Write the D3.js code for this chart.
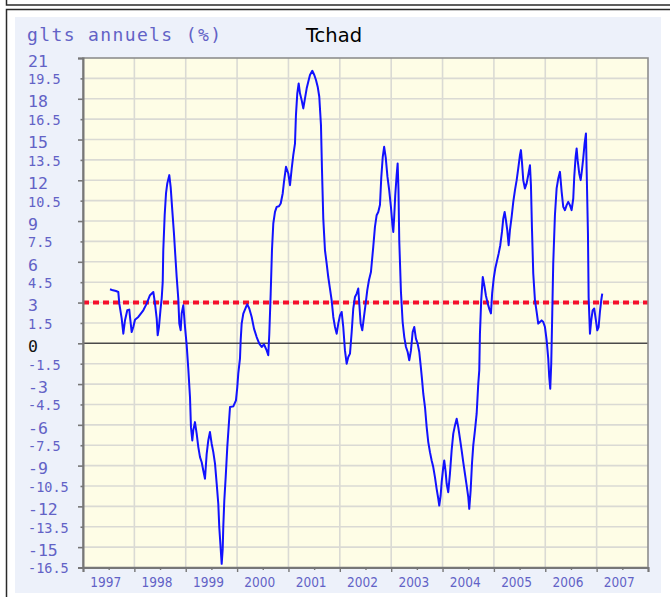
<!DOCTYPE html>
<html>
<head>
<meta charset="utf-8">
<script src="https://cdn.jsdelivr.net/npm/d3@7"></script>
<style>
  html, body { margin: 0; padding: 0; background: #fff; }
  svg { display: block; }
</style>
</head>
<body>
<svg id="chart" width="670" height="597"></svg>
<script>
// Chart text
const chartTitle = "glts annuels (%)";
const countryName = "Tchad";

// Axis ticks
const yearTicks = [1997, 1998, 1999, 2000, 2001, 2002, 2003, 2004, 2005, 2006, 2007, 2008];
const yearLabels = ["1997", "1998", "1999", "2000", "2001", "2002", "2003", "2004", "2005", "2006", "2007"];
const yTickValues = [21, 19.5, 18, 16.5, 15, 13.5, 12, 10.5, 9, 7.5, 6, 4.5, 3, 1.5, 0,
  -1.5, -3, -4.5, -6, -7.5, -9, -10.5, -12, -13.5, -15, -16.5];
const yTickLabels = ["21", "19.5", "18", "16.5", "15", "13.5", "12", "10.5", "9", "7.5", "6", "4.5", "3", "1.5", "0",
  "-1.5", "-3", "-4.5", "-6", "-7.5", "-9", "-10.5", "-12", "-13.5", "-15", "-16.5"];

// Reference threshold (%)
const targetRate = 3;

// Year-on-year inflation: observation dates (decimal years) and rates (%)
const dates = [
  1997.526, 1997.584, 1997.642, 1997.687, 1997.707, 1997.753, 1997.785, 1997.818, 1997.862, 1997.901,
  1997.915, 1997.948, 1997.979, 1998.012, 1998.077, 1998.174, 1998.240, 1998.304, 1998.369, 1998.402,
  1998.435, 1998.454, 1998.479, 1998.509, 1998.532, 1998.552, 1998.563, 1998.590, 1998.616, 1998.641,
  1998.680, 1998.707, 1998.738, 1998.771, 1998.797, 1998.824, 1998.855, 1998.875, 1998.902, 1998.921,
  1998.953, 1998.986, 1999.019, 1999.050, 1999.083, 1999.102, 1999.128, 1999.147, 1999.180, 1999.213,
  1999.245, 1999.278, 1999.311, 1999.342, 1999.375, 1999.408, 1999.439, 1999.472, 1999.505, 1999.537,
  1999.570, 1999.603, 1999.634, 1999.653, 1999.681, 1999.700, 1999.720, 1999.731, 1999.751, 1999.778,
  1999.809, 1999.842, 1999.862, 1999.926, 1999.978, 2000.004, 2000.023, 2000.056, 2000.070, 2000.089,
  2000.121, 2000.173, 2000.198, 2000.237, 2000.284, 2000.329, 2000.381, 2000.432, 2000.479, 2000.523,
  2000.576, 2000.607, 2000.627, 2000.654, 2000.679, 2000.705, 2000.738, 2000.771, 2000.815, 2000.849,
  2000.888, 2000.913, 2000.952, 2000.997, 2001.030, 2001.063, 2001.094, 2001.127, 2001.146, 2001.172,
  2001.199, 2001.224, 2001.257, 2001.289, 2001.322, 2001.355, 2001.386, 2001.419, 2001.464, 2001.503,
  2001.536, 2001.569, 2001.600, 2001.633, 2001.653, 2001.678, 2001.711, 2001.744, 2001.775, 2001.808,
  2001.841, 2001.873, 2001.906, 2001.939, 2001.970, 2002.003, 2002.036, 2002.067, 2002.100, 2002.133,
  2002.165, 2002.198, 2002.231, 2002.262, 2002.295, 2002.328, 2002.359, 2002.379, 2002.406, 2002.437,
  2002.470, 2002.503, 2002.534, 2002.567, 2002.606, 2002.651, 2002.684, 2002.717, 2002.749, 2002.782,
  2002.807, 2002.836, 2002.863, 2002.894, 2002.928, 2002.961, 2002.996, 2003.025, 2003.041, 2003.058,
  2003.079, 2003.107, 2003.126, 2003.142, 2003.157, 2003.190, 2003.223, 2003.255, 2003.288, 2003.321,
  2003.352, 2003.385, 2003.418, 2003.449, 2003.482, 2003.515, 2003.547, 2003.574, 2003.599, 2003.625,
  2003.658, 2003.691, 2003.722, 2003.755, 2003.788, 2003.819, 2003.852, 2003.885, 2003.917, 2003.936,
  2003.963, 2003.983, 2004.014, 2004.033, 2004.061, 2004.080, 2004.111, 2004.144, 2004.177, 2004.209,
  2004.242, 2004.275, 2004.306, 2004.339, 2004.372, 2004.403, 2004.436, 2004.469, 2004.501, 2004.520,
  2004.547, 2004.573, 2004.598, 2004.631, 2004.664, 2004.695, 2004.715, 2004.728, 2004.753, 2004.783,
  2004.816, 2004.845, 2004.880, 2004.913, 2004.942, 2004.966, 2004.997, 2005.026, 2005.059, 2005.092,
  2005.124, 2005.157, 2005.182, 2005.209, 2005.234, 2005.260, 2005.287, 2005.312, 2005.345, 2005.377,
  2005.410, 2005.443, 2005.474, 2005.507, 2005.526, 2005.546, 2005.571, 2005.604, 2005.637, 2005.668,
  2005.702, 2005.721, 2005.741, 2005.766, 2005.799, 2005.832, 2005.863, 2005.896, 2005.929, 2005.961,
  2005.994, 2006.027, 2006.058, 2006.077, 2006.097, 2006.116, 2006.136, 2006.155, 2006.188, 2006.221,
  2006.253, 2006.286, 2006.319, 2006.350, 2006.383, 2006.416, 2006.447, 2006.480, 2006.513, 2006.545,
  2006.564, 2006.591, 2006.611, 2006.630, 2006.661, 2006.689, 2006.714, 2006.739, 2006.766, 2006.792,
  2006.805, 2006.831, 2006.844, 2006.870, 2006.895, 2006.922, 2006.953, 2006.986, 2007.012, 2007.039,
  2007.064, 2007.090, 2007.109
];
const values = [
  3.98, 3.90, 3.85, 3.78, 2.92, 1.84, 0.71, 1.70, 2.43, 2.48,
  1.94, 0.83, 1.20, 1.74, 1.94, 2.43, 2.92, 3.54, 3.78, 2.92,
  1.82, 0.59, 1.20, 2.50, 3.30, 4.50, 6.85, 9.43, 11.03, 11.77,
  12.38, 11.50, 9.80, 8.08, 6.48, 4.88, 3.29, 1.45, 0.96, 2.19,
  2.80, 1.20, -0.15, -1.87, -3.96, -6.17, -7.15, -6.41, -5.80, -6.65,
  -7.64, -8.38, -8.75, -9.36, -9.97, -8.13, -7.15, -6.53, -7.39, -8.01,
  -8.86, -10.34, -11.81, -13.53, -15.13, -16.23, -15.13, -13.53, -11.57, -9.85,
  -7.64, -5.80, -4.69, -4.64, -4.20, -3.22, -2.23, -1.13, 0.22, 1.45,
  2.19, 2.67, 2.87, 2.56, 1.94, 1.08, 0.46, -0.02, -0.27, -0.07,
  -0.52, -0.88, 0.71, 3.66, 6.85, 8.82, 9.67, 10.04, 10.09, 10.29,
  11.03, 11.88, 12.99, 12.50, 11.64, 12.85, 13.85, 14.70, 16.80, 18.40,
  19.13, 18.40, 17.90, 17.29, 18.03, 18.77, 19.25, 19.75, 20.06, 19.75,
  19.38, 18.89, 18.15, 16.06, 12.75, 9.18, 6.85, 5.87, 4.88, 4.03,
  3.17, 1.94, 1.20, 0.71, 1.45, 2.06, 2.31, 1.20, -0.52, -1.50,
  -1.01, -0.76, 0.83, 2.56, 3.41, 3.66, 4.03, 2.92, 1.45, 0.96,
  1.94, 2.92, 3.90, 4.64, 5.25, 7.10, 8.57, 9.43, 9.67, 10.20,
  12.20, 13.73, 14.46, 13.67, 12.25, 11.27, 10.00, 8.70, 8.20, 9.25,
  10.90, 12.40, 13.24, 11.30, 7.59, 3.80, 1.57, 0.46, -0.27, -0.64,
  -1.25, -0.52, 0.83, 1.20, 0.35, -0.02, -0.64, -1.62, -2.60, -3.71,
  -4.69, -6.17, -7.27, -8.01, -8.62, -9.11, -9.85, -10.71, -11.44, -11.94,
  -11.20, -10.22, -9.11, -8.62, -9.48, -10.34, -10.96, -9.60, -7.88, -6.65,
  -6.04, -5.55, -6.17, -7.02, -7.88, -8.75, -9.60, -10.46, -11.32, -12.18,
  -10.83, -8.86, -7.51, -6.41, -5.18, -3.00, -1.99, 0.71, 3.20, 4.88,
  4.20, 3.50, 2.92, 2.50, 2.20, 3.70, 4.80, 5.50, 6.05, 6.60,
  7.22, 8.20, 9.18, 9.67, 9.06, 8.33, 7.22, 8.33, 9.31, 10.41,
  11.27, 12.01, 12.87, 13.85, 14.22, 13.36, 12.01, 11.40, 11.77, 12.38,
  13.11, 11.64, 8.45, 5.14, 3.17, 2.31, 1.45, 1.57, 1.69, 1.57,
  1.20, 0.22, -1.13, -2.48, -3.34, -1.50, 2.19, 5.87, 9.43, 11.40,
  12.13, 12.62, 11.15, 10.04, 9.80, 10.17, 10.41, 10.17, 9.80, 10.66,
  12.25, 13.73, 14.34, 13.48, 12.50, 12.01, 12.75, 13.61, 14.71, 15.45,
  12.87, 8.08, 3.41, 0.71, 1.69, 2.43, 2.56, 1.69, 0.96, 1.20,
  2.31, 3.17, 3.66
];

const series = dates.map((t, i) => ({ t, v: values[i] }));

// Layout
const W = 670, H = 597;
const plot = { left: 83, right: 648, top: 58, bottom: 567.5 };
const labelBlue = "#6262c6";

const svg = d3.select("#chart");

// Page frames
const frame = svg.append("g").attr("fill", "none").attr("stroke", "#2a2a2a").attr("stroke-width", 1.5);
frame.append("path").attr("d", `M6.5,-2 V5 H${W + 2}`);
frame.append("path").attr("d", `M6.5,${H + 2} V9.5 H${W + 2}`);

// Light panel
svg.append("rect")
  .attr("x", 15).attr("y", 17).attr("width", 646).attr("height", 576)
  .attr("fill", "#edf1fa");

// Scales
const x = d3.scaleLinear().domain([yearTicks[0], yearTicks[yearTicks.length - 1]]).range([plot.left, plot.right]);
const y = d3.scaleLinear().domain([d3.min(yTickValues), d3.max(yTickValues)]).range([plot.bottom, plot.top]);

// Plot background
svg.append("rect")
  .attr("x", plot.left).attr("y", plot.top)
  .attr("width", plot.right - plot.left).attr("height", plot.bottom - plot.top)
  .attr("fill", "#fefde6");

// Grid
const grid = svg.append("g").attr("stroke", "#dadad4").attr("stroke-width", 1.6);
grid.selectAll("line.h")
  .data(yTickValues.filter(v => v !== 0 && v !== d3.min(yTickValues) && v !== d3.max(yTickValues)))
  .join("line").attr("class", "h")
  .attr("x1", plot.left).attr("x2", plot.right)
  .attr("y1", d => y(d)).attr("y2", d => y(d));
grid.selectAll("line.v")
  .data(yearTicks.slice(1, -1))
  .join("line").attr("class", "v")
  .attr("y1", plot.top).attr("y2", plot.bottom)
  .attr("x1", d => x(d)).attr("x2", d => x(d));

// Zero line
svg.append("line")
  .attr("x1", plot.left).attr("x2", plot.right)
  .attr("y1", y(0)).attr("y2", y(0))
  .attr("stroke", "#4a4a4a").attr("stroke-width", 1.4);

// Threshold line
svg.append("line")
  .attr("x1", plot.left).attr("x2", plot.right)
  .attr("y1", y(targetRate)).attr("y2", y(targetRate))
  .attr("stroke", "#f5102c").attr("stroke-width", 4)
  .attr("stroke-dasharray", "6,4");

// Inflation series
svg.append("path")
  .datum(series)
  .attr("fill", "none")
  .attr("stroke", "#1212ff")
  .attr("stroke-width", 2)
  .attr("stroke-linejoin", "round")
  .attr("d", d3.line().x(d => x(d.t)).y(d => y(d.v)));

// Plot border
svg.append("rect")
  .attr("x", plot.left).attr("y", plot.top)
  .attr("width", plot.right - plot.left).attr("height", plot.bottom - plot.top)
  .attr("fill", "none").attr("stroke", "#8e8e8e").attr("stroke-width", 1.6);

// Left axis
const isMajor = v => Math.abs(v % 3) < 1e-9;
const yAxis = svg.append("g")
  .attr("transform", `translate(${plot.left},0)`)
  .call(d3.axisLeft(y).tickValues(yTickValues).tickSize(5).tickPadding(0)
    .tickFormat((d, i) => yTickLabels[i]));
yAxis.select(".domain").attr("stroke", "#777").attr("stroke-width", 2);
yAxis.selectAll(".tick line")
  .attr("stroke", "#777").attr("stroke-width", 1.6)
  .attr("x2", d => isMajor(d) ? -5 : -2.5);
yAxis.selectAll(".tick text")
  .attr("x", 28 - plot.left)
  .attr("text-anchor", "start")
  .attr("dy", null)
  .attr("y", d => isMajor(d) ? 8.2 : 5.4)
  .attr("font-family", "'DejaVu Sans Mono', monospace")
  .attr("font-size", d => isMajor(d) ? 16.5 : 13.5)
  .attr("fill", d => d === 0 ? "#111" : labelBlue);

// Bottom axis: ticks at year boundaries and mid-year, labels at mid-year
const halfYears = d3.merge(yearTicks.map((yr, i) => i < yearTicks.length - 1 ? [yr, yr + 0.5] : [yr]));
const xAxis = svg.append("g")
  .attr("transform", `translate(0,${plot.bottom})`)
  .call(d3.axisBottom(x).tickValues(halfYears).tickSize(4.5).tickPadding(0)
    .tickFormat(d => Number.isInteger(d) ? "" : yearLabels[Math.floor(d) - yearTicks[0]]));
xAxis.select(".domain").attr("stroke", "#777").attr("stroke-width", 2);
xAxis.selectAll(".tick line")
  .attr("stroke", "#777").attr("stroke-width", 1.4)
  .attr("y2", d => Number.isInteger(d) ? 4.5 : 2.5);
xAxis.selectAll(".tick text")
  .attr("dy", null)
  .attr("y", 19.5)
  .attr("dx", -3.5)
  .attr("font-family", "'DejaVu Sans Condensed', 'Liberation Sans', sans-serif")
  .attr("font-size", 13.5)
  .attr("fill", labelBlue);

// Titles
svg.append("text")
  .attr("x", 27).attr("y", 41)
  .attr("font-family", "'DejaVu Sans Mono', monospace")
  .attr("font-size", 18)
  .attr("textLength", 194).attr("lengthAdjust", "spacing")
  .attr("fill", labelBlue)
  .text(chartTitle);
svg.append("text")
  .attr("x", 306).attr("y", 42)
  .attr("font-family", "'DejaVu Sans', sans-serif")
  .attr("font-size", 19.5)
  .attr("fill", "#000")
  .text(countryName);
</script>
</body>
</html>
